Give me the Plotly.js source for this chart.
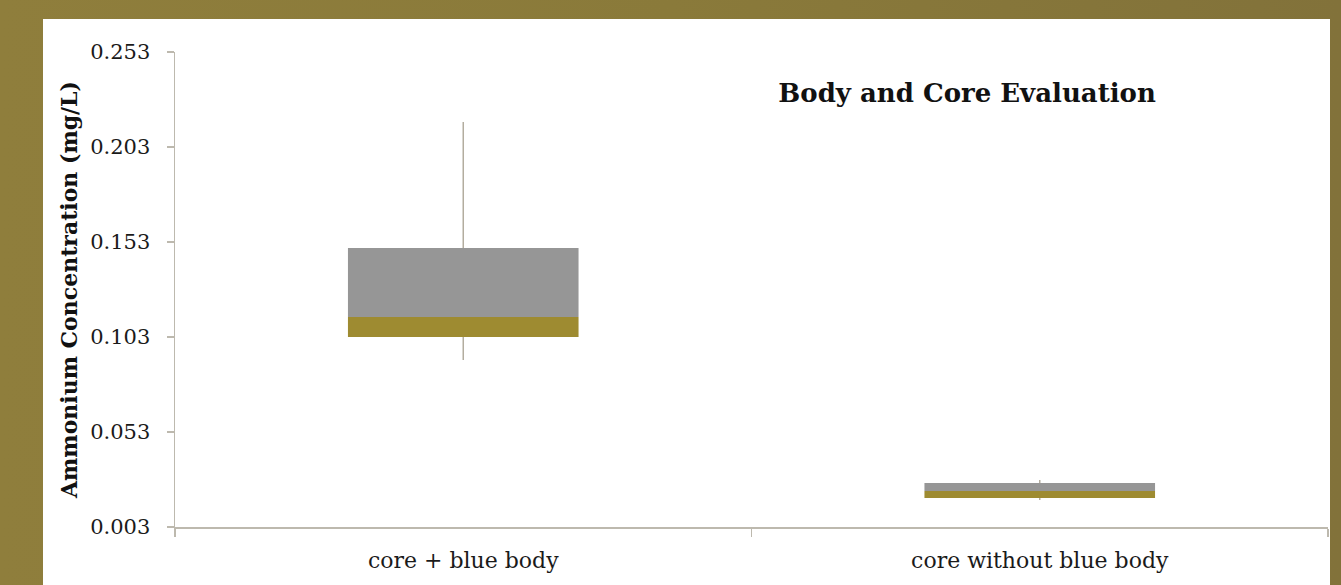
<!DOCTYPE html>
<html>
<head>
<meta charset="utf-8">
<script src="https://cdn.plot.ly/plotly-3.0.1.min.js"></script>
<style>
html,body{margin:0;padding:0;width:1341px;height:585px;overflow:hidden;}
body{background:linear-gradient(90deg,#8f7e3c 0%,#8a7a3a 50%,#82723a 100%);position:relative;}
#chart{position:absolute;left:43px;top:19px;width:1287px;height:566px;background:#fff;}
</style>
</head>
<body>
<div id="chart"></div>
<script>
const categories = ["core + blue body", "core without blue body"];
const minVals = [0.0909, 0.0172];
const q1Vals = [0.1030, 0.0183];
const medianVals = [0.1135, 0.0220];
const q3Vals = [0.1498, 0.0262];
const maxVals = [0.2162, 0.0277];
const yTicks = [0.003, 0.053, 0.103, 0.153, 0.203, 0.253];

const axisColor = "#bdb9ae";
const fontFam = "DejaVu Serif, Liberation Serif, serif";

const lowerBox = {
  type: "bar", x: categories,
  base: q1Vals,
  y: medianVals.map((m, i) => m - q1Vals[i]),
  marker: {color: "#9e8b31"},
  width: 0.4, hoverinfo: "skip", showlegend: false
};
const upperBox = {
  type: "bar", x: categories,
  base: medianVals,
  y: q3Vals.map((q, i) => q - medianVals[i]),
  marker: {color: "#969696"},
  width: 0.4, hoverinfo: "skip", showlegend: false
};
const wx = [], wy = [];
categories.forEach((c, i) => {
  wx.push(c, c, null, c, c, null);
  wy.push(q3Vals[i], maxVals[i], null, q1Vals[i], minVals[i], null);
});
const whiskers = {
  type: "scatter", mode: "lines", x: wx, y: wy,
  line: {color: "#b3ad9f", width: 1.5}, hoverinfo: "skip", showlegend: false
};

const layout = {
  width: 1287, height: 566,
  margin: {l: 132, r: 2, t: 33, b: 58},
  paper_bgcolor: "#ffffff", plot_bgcolor: "#ffffff",
  barmode: "overlay",
  font: {family: fontFam, color: "#1a1a1a", size: 20},
  title: {
    text: "<b>Body and Core Evaluation</b>",
    font: {family: fontFam, size: 26, color: "#111"},
    x: 0.718, xanchor: "center", xref: "container",
    y: 0.869, yanchor: "middle", yref: "container"
  },
  xaxis: {
    type: "category", range: [-0.5, 1.5],
    showline: true, linecolor: axisColor, linewidth: 2,
    ticks: "outside", tickson: "boundaries", ticklen: 8, tickcolor: axisColor, tickwidth: 1.5,
    ticklabelstandoff: 13,
    showgrid: false, zeroline: false,
    tickfont: {family: fontFam, size: 22, color: "#1a1a1a"}
  },
  yaxis: {
    range: [0.003, 0.253], tickmode: "array", tickvals: yTicks,
    ticktext: yTicks.map(v => v.toFixed(3)),
    showline: true, linecolor: axisColor, linewidth: 1.5,
    ticks: "outside", ticklen: 7, tickcolor: axisColor, tickwidth: 1.5,
    ticklabelstandoff: 12,
    showgrid: false, zeroline: false,
    tickfont: {family: fontFam, size: 21, color: "#1a1a1a"},
    title: {text: "<b>Ammonium Concentration (mg/L)</b>", standoff: 6,
            font: {family: fontFam, size: 22, color: "#111"}}
  }
};

Plotly.newPlot("chart", [lowerBox, upperBox, whiskers], layout, {displayModeBar: false, staticPlot: true});
</script>
</body>
</html>
